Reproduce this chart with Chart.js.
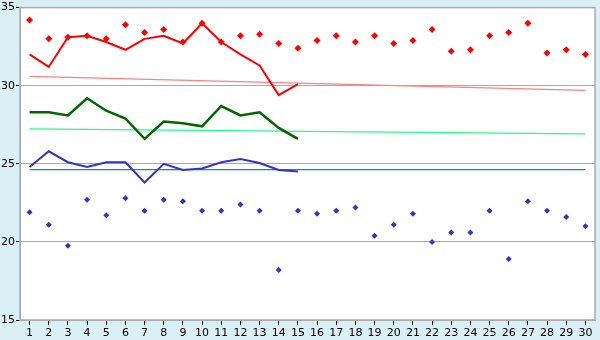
<!DOCTYPE html>
<html><head><meta charset="utf-8">
<style>html,body{margin:0;padding:0;background:#daeff6}#wrap{width:600px;height:340px}</style>
<script src="https://cdn.jsdelivr.net/npm/chart.js@4"></script>
</head><body><div id="wrap"><canvas id="c" width="600" height="340"></canvas></div>
<script>
const days = ['1','2','3','4','5','6','7','8','9','10','11','12','13','14','15','16','17','18','19','20','21','22','23','24','25','26','27','28','29','30'];
const maxTemps = [34.2,33.0,33.1,33.2,33.0,33.9,33.4,33.6,32.8,34.0,32.8,33.2,33.3,32.7,32.4,32.9,33.2,32.8,33.2,32.7,32.9,33.6,32.2,32.3,33.2,33.4,34.0,32.1,32.3,32.0];
const minTemps = [21.9,21.1,19.75,22.7,21.7,22.8,22.0,22.7,22.6,22.0,22.0,22.4,22.0,18.2,22.0,21.8,22.0,22.2,20.4,21.1,21.8,20.0,20.6,20.6,22.0,18.9,22.6,22.0,21.6,21.0];
const maxLine = [32.0,31.2,33.1,33.2,32.8,32.3,33.0,33.2,32.7,34.0,32.8,32.0,31.3,29.4,30.1];
const meanLine = [28.3,28.3,28.1,29.2,28.4,27.9,26.6,27.7,27.6,27.4,28.7,28.1,28.3,27.3,26.6];
const minLine = [24.8,25.8,25.1,24.8,25.1,25.1,23.8,25.0,24.6,24.7,25.1,25.3,25.05,24.6,24.5];
// normal (trend) lines: values at first and last day
const maxNormalEnds = [30.6, 29.7];
const meanNormalEnds = [27.23, 26.92];
const minNormalEnds = [24.63, 24.63];
const yTicks = [15,20,25,30,35];

function ends(e){ const a = days.map(()=>null); a[0]=e[0]; a[days.length-1]=e[1]; return a; }

const bgPlugin = {
  id:'bg',
  beforeDraw(chart){
    const {ctx, chartArea:a} = chart;
    ctx.save();
    ctx.fillStyle='#daeff6'; ctx.fillRect(0,0,chart.width,chart.height);
    ctx.fillStyle='#ffffff'; ctx.fillRect(a.left,a.top,a.right-a.left,a.bottom-a.top);
    ctx.restore();
  },
  afterDraw(chart){
    const {ctx, chartArea:a} = chart;
    ctx.save();
    ctx.strokeStyle='#aaaaaa'; ctx.lineWidth=1.5;
    ctx.strokeRect(a.left,a.top,a.right-a.left,a.bottom-a.top);
    ctx.restore();
  }
};

new Chart(document.getElementById('c'), {
  type:'line',
  data:{labels:days, datasets:[
    {data:maxLine, borderColor:'#ff0000', borderWidth:2, pointRadius:0, tension:0, order:3},
    {data:meanLine, borderColor:'#006600', borderWidth:2.5, pointRadius:0, tension:0, order:3},
    {data:minLine, borderColor:'#3333cc', borderWidth:2, pointRadius:0, tension:0, order:3},
    {data:ends(maxNormalEnds), borderColor:'#ff8080', borderWidth:1.2, pointRadius:0, spanGaps:true, order:4},
    {data:ends(meanNormalEnds), borderColor:'#22ff88', borderWidth:1.2, pointRadius:0, spanGaps:true, order:4},
    {data:ends(minNormalEnds), borderColor:'#0080ff', borderWidth:1.2, pointRadius:0, spanGaps:true, order:4},
    {data:maxTemps, showLine:false, pointStyle:'rectRot', pointRadius:3.5, pointBackgroundColor:'#ff0000', pointBorderColor:'#ff0000', borderWidth:0, order:1},
    {data:minTemps, showLine:false, pointStyle:'rectRot', pointRadius:3, pointBackgroundColor:'#3333cc', pointBorderColor:'#3333cc', borderWidth:0, order:1}
  ]},
  options:{
    responsive:false, animation:false,
    layout:{padding:{top:5,right:5,left:0,bottom:0}},
    plugins:{legend:{display:false}, tooltip:{enabled:false}},
    scales:{
      x:{offset:true,
        grid:{offset:false, drawOnChartArea:false, drawTicks:true, tickLength:5, tickColor:'#000000'},
        border:{color:'#aaaaaa'},
        ticks:{color:'#000', font:{family:'DejaVu Sans', size:11}, padding:2, maxRotation:0, autoSkip:false},
        afterFit(s){ s.height=20; }
      },
      y:{min:15, max:35,
        afterBuildTicks(s){ s.ticks = yTicks.map(v=>({value:v})); },
        grid:{color:'#aaaaaa', tickLength:4, tickColor:'#000000'},
        border:{color:'#aaaaaa'},
        ticks:{color:'#000', font:{family:'DejaVu Sans', size:11}, padding:1},
        afterFit(s){ s.width=20; }
      }
    }
  },
  plugins:[bgPlugin]
});
</script></body></html>
